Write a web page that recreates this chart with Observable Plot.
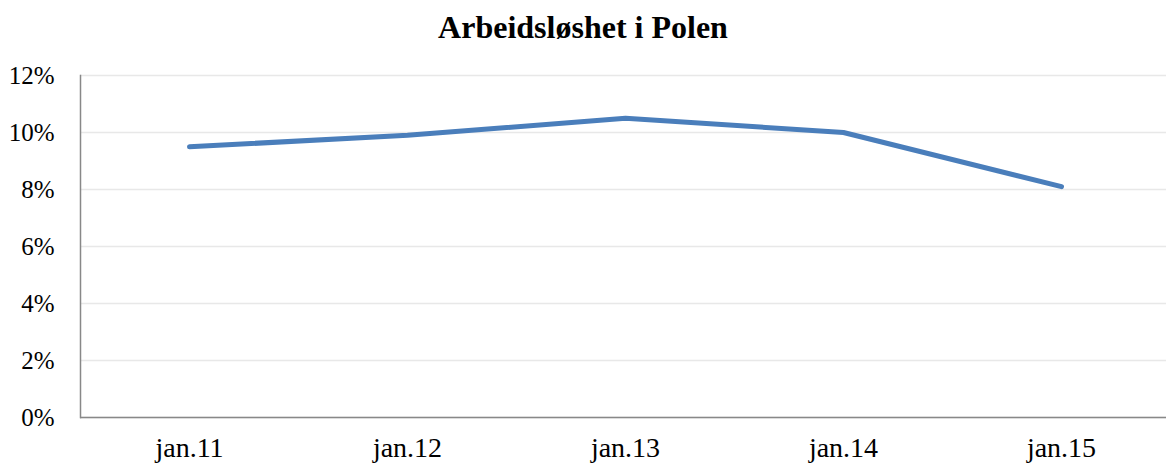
<!DOCTYPE html>
<html>
<head>
<meta charset="utf-8">
<script src="https://cdn.jsdelivr.net/npm/d3@7"></script>
<script src="https://cdn.jsdelivr.net/npm/@observablehq/plot@0.6"></script>
<style>
  html, body { margin: 0; padding: 0; background: #fff; }
  #title { height: 50px; line-height: 54px; text-align: center; font-family: "Liberation Serif", "Times New Roman", serif; font-weight: bold; font-size: 32px; color: #000; }
  svg { display: block; }
</style>
</head>
<body>
<div id="title">Arbeidsløshet i Polen</div>
<div id="chart"></div>
<script>
const categories = ["jan.11", "jan.12", "jan.13", "jan.14", "jan.15"];
const values = [0.095, 0.099, 0.105, 0.100, 0.081];
const yTicks = [0, 0.02, 0.04, 0.06, 0.08, 0.10, 0.12];

const data = categories.map((c, i) => ({cat: c, v: values[i]}));

const chart = Plot.plot({
  width: 1166,
  height: 416,
  marginLeft: 80,
  marginRight: 0,
  marginTop: 25,
  marginBottom: 49,
  style: {fontFamily: "'Liberation Serif', 'Times New Roman', serif", fontSize: "25px", color: "#000", background: "#fff"},
  x: {type: "point", domain: categories, range: [80, 1170], padding: 0.5, label: null},
  y: {domain: [0, 0.12], label: null},
  marks: [
    Plot.gridY(yTicks, {stroke: "#e8e8e8", strokeOpacity: 1, strokeWidth: 1.5}),
    Plot.axisY(yTicks, {tickFormat: d => Math.round(d * 100) + "%", tickSize: 0, tickPadding: 26, fontSize: 25, label: null}),
    Plot.axisX({tickSize: 0, tickPadding: 20, fontSize: 28, label: null}),
    Plot.frame({anchor: "left", stroke: "#888", strokeWidth: 1.5}),
    Plot.ruleY([0], {stroke: "#888", strokeWidth: 1.5}),
    Plot.line(data, {x: "cat", y: "v", stroke: "#4a7ebb", strokeWidth: 5, strokeLinecap: "round", strokeLinejoin: "round"})
  ]
});
document.getElementById("chart").appendChild(chart);
</script>
</body>
</html>
